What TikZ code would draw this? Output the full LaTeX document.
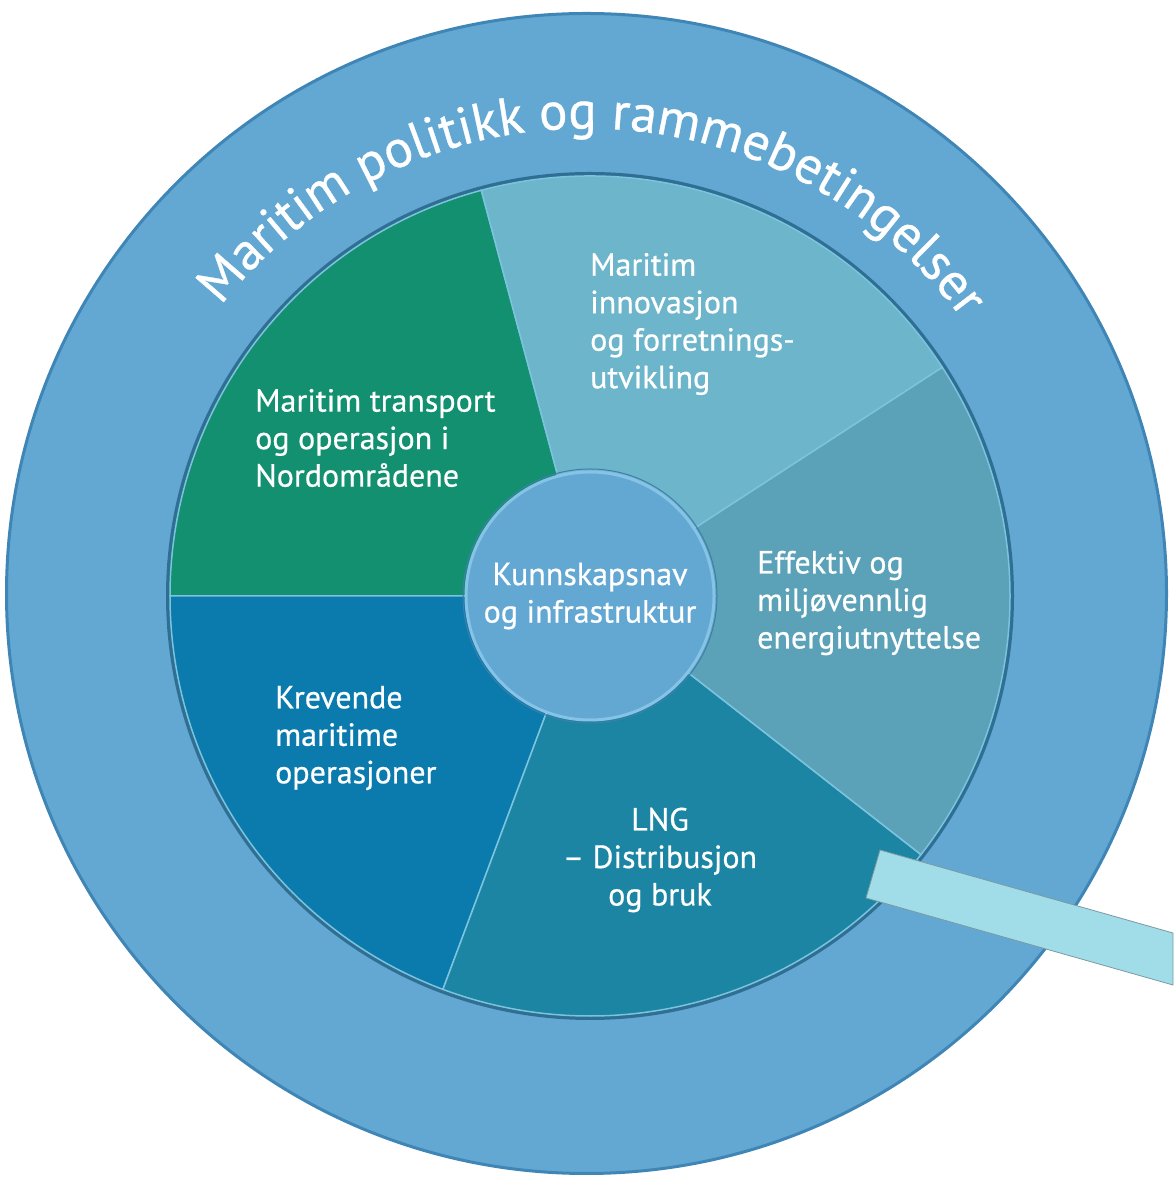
\documentclass[tikz,border=0pt]{standalone}
\usepackage{fontspec}
\setsansfont{PT Sans}
\newfontfamily\segfont{PT Sans}[FakeBold=0.6]
\usetikzlibrary{calc,decorations.text}
\definecolor{ringblue}{HTML}{63A8D3}
\definecolor{ringedge}{HTML}{3F86B6}
\definecolor{pieshadow}{HTML}{2F6F93}
\definecolor{seamline}{HTML}{7CC3DE}
\definecolor{nordgreen}{HTML}{12906F}
\definecolor{innoteal}{HTML}{6DB5CB}
\definecolor{energiteal}{HTML}{5BA2B8}
\definecolor{lngteal}{HTML}{1B85A3}
\definecolor{krevblue}{HTML}{0B7BAE}
\definecolor{hubrim}{HTML}{86C3E6}
\definecolor{hubdark}{HTML}{3E7FA8}
\definecolor{barfill}{HTML}{A1DDE9}
\definecolor{barline}{HTML}{7A9AA0}

\begin{document}
\begin{tikzpicture}[x=1pt,y=1pt,
    seglabel/.style={text=white,font=\segfont\fontsize{32}{37.5}\selectfont,inner sep=0pt,align=left},
    segment/.style={draw=seamline,line width=1.5pt}]
  \useasboundingbox (0,0) rectangle (1173,1188);
  \coordinate (oc) at (586.5,594.5);
  \coordinate (pc) at (590,592);

  % outer ring with the curved title
  \fill[ringblue,draw=ringedge,line width=3pt] (oc) circle[radius=580];
  \path[decorate,decoration={text along path,text align=center,
      text format delimiters={|}{|},
      text={|\segfont\fontsize{53}{53}\selectfont\color{white}|Maritim politikk og rammebetingelser}}]
    ($(oc)+(169:465)$) arc[start angle=169,end angle=9,radius=465];

  % the five areas
  \fill[pieshadow] (pc) circle[radius=424];
  \foreach \a/\b/\c in {105/180/nordgreen,180/249.5/krevblue,249.5/322/lngteal,322/393/energiteal,33/105/innoteal}
    \filldraw[\c,segment] (pc) -- ++(\a:420) arc[start angle=\a,end angle=\b,radius=420] -- cycle;

  \node[seglabel,anchor=west] (transport) at (255,750) {Maritim transport\\og operasjon i\\Nordområdene};
  \node[seglabel,anchor=west] (innovasjon) at (590,864) {Maritim\\innovasjon\\og forretnings-\\utvikling};
  \node[seglabel,anchor=west] (energi) at (757,585) {Effektiv og\\miljøvennlig\\energiutnyttelse};
  \node[seglabel,anchor=west] (krevende) at (275,450) {Krevende\\maritime\\operasjoner};
  \node[seglabel,align=center] (lng) at (660,328) {LNG\\– Distribusjon\\og bruk};

  % hub
  \node[seglabel,align=center,circle,fill=ringblue,draw=hubrim,line width=3pt,minimum size=248pt] (hub) at (pc) {Kunnskapsnav\\og infrastruktur};
  \draw[hubdark,line width=1pt] (hub.center) circle[radius=127];

  % pointer bar
  \filldraw[fill=barfill,draw=barline,line width=0.8pt] (880,338) -- (866,290) -- (1173,203) -- (1173,255) -- cycle;
\end{tikzpicture}
\end{document}
